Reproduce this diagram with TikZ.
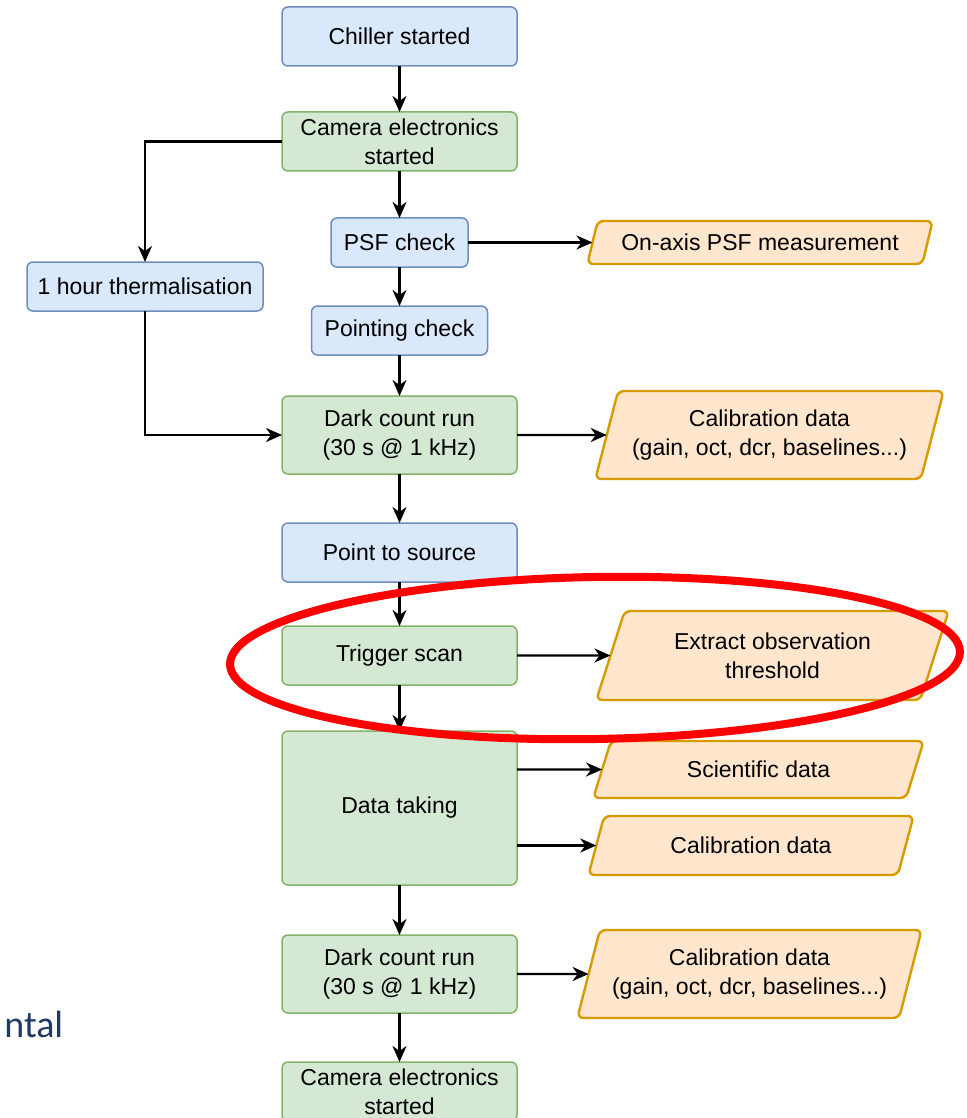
\documentclass[tikz,border=0pt]{standalone}
\usepackage{fontspec}
\setmainfont{Liberation Sans}
\newfontfamily\slidefont{Carlito}
\usepackage{xcolor}
\usepackage{tikz}
\usetikzlibrary{arrows.meta,positioning,shapes.geometric,calc}

\definecolor{bluefill}{HTML}{DAE8FC}
\definecolor{blueline}{HTML}{6C8EBF}
\definecolor{greenfill}{HTML}{D5E8D4}
\definecolor{greenline}{HTML}{82B366}
\definecolor{orangefill}{HTML}{FFE6CC}
\definecolor{orangeline}{HTML}{D79B00}
\definecolor{slideblue}{HTML}{1F3864}

\begin{document}
\begin{tikzpicture}[
        font=\fontsize{11.5}{14.5}\selectfont,
        box/.style={
            draw, rounded corners=3pt, line width=0.75pt,
            minimum width=117.5pt, minimum height=29.5pt,
            align=center, inner sep=2pt, outer sep=0pt
        },
        bluebox/.style={box, draw=blueline, fill=bluefill},
        greenbox/.style={box, draw=greenline, fill=greenfill},
        databox/.style={
            trapezium, trapezium left angle=70, trapezium right angle=110,
            trapezium stretches=true,
            draw=orangeline, fill=orangefill, line width=1.2pt,
            rounded corners=3pt, align=center, inner sep=2pt, outer sep=0pt
        },
        arrow/.style={-{Stealth[length=8pt,width=7pt,inset=2.5pt]}, line width=1.15pt},
        highlight/.style={draw=red, line width=4pt},
        node distance=23pt
    ]

    \useasboundingbox (0,0) rectangle (483pt,-559pt);

    % Main column
    \node[bluebox] (chiller) at (199.75pt,-18.25pt) {Chiller started};
    \node[greenbox, below=of chiller] (cam1) {Camera electronics\\started};
    \node[bluebox, below=23.5pt of cam1, minimum width=68.5pt, minimum height=24.5pt] (psf) {PSF check};
    \node[bluebox, below=19.5pt of psf, minimum width=88pt, minimum height=24.5pt] (pointing) {Pointing check};
    \node[greenbox, below=20.5pt of pointing, minimum height=39pt] (dark1) {Dark count run\\(30 s @ 1 kHz)};
    \node[bluebox, below=24.5pt of dark1] (point) {Point to source};
    \node[greenbox, below=22pt of point] (trigger) {Trigger scan};
    \node[greenbox, below=of trigger, minimum height=77pt] (datatake) {Data taking};
    \node[greenbox, below=25pt of datatake, minimum height=39pt] (dark2) {Dark count run\\(30 s @ 1 kHz)};
    \node[greenbox, below=24.5pt of dark2] (cam2) {Camera electronics\\started};

    % Side branch
    \node[bluebox, minimum width=118pt, minimum height=24.5pt] (therm)
        at ($(psf.south)!0.5!(pointing.north)+(-127.25pt,0)$) {1 hour thermalisation};

    % Outputs
    \node[databox, minimum width=173pt, minimum height=21.5pt] (onaxis) at ($(psf)+(180.25pt,0)$) {On-axis PSF measurement};
    \node[databox, minimum width=174.5pt, minimum height=44pt] (calib1) at ($(dark1)+(185pt,0)$) {Calibration data\\(gain, oct, dcr, baselines...)};
    \node[databox, minimum width=176.5pt, minimum height=44.5pt] (extract) at ($(trigger)+(186.5pt,0)$) {Extract observation\\threshold};
    \node[databox, minimum width=165.5pt, minimum height=28.5pt] (scidata) at ($(datatake)+(179.5pt,19.25pt)$) {Scientific data};
    \node[databox, minimum width=164pt, minimum height=29.5pt] (calib2) at ($(datatake)+(175.75pt,-18.75pt)$) {Calibration data};
    \node[databox, minimum width=172.5pt, minimum height=44pt] (calib3) at ($(dark2)+(175pt,0)$) {Calibration data\\(gain, oct, dcr, baselines...)};

    % Arrows
    \draw[arrow] (chiller) -- (cam1);
    \draw[arrow] (cam1) -- (psf);
    \draw[arrow] (cam1.west) -| (therm.north);
    \draw[arrow] (psf) -- (onaxis);
    \draw[arrow] (psf) -- (pointing);
    \draw[arrow] (pointing) -- (dark1);
    \draw[arrow] (therm.south) |- (dark1.west);
    \draw[arrow] (dark1) -- (calib1);
    \draw[arrow] (dark1) -- (point);
    \draw[arrow] (point) -- (trigger);
    \draw[arrow] (trigger) -- (extract);
    \draw[arrow] (trigger) -- (datatake);
    \draw[arrow] (datatake.east |- scidata) -- (scidata);
    \draw[arrow] (datatake.east |- calib2) -- (calib2);
    \draw[arrow] (datatake) -- (dark2);
    \draw[arrow] (dark2) -- (calib3);
    \draw[arrow] (dark2) -- (cam2);

    % Highlight
    \coordinate (ring) at ($(trigger)+(97.75pt,-1.25pt)$);
    \draw[highlight, rotate around={1:(ring)}] (ring) ellipse [x radius=182.5pt, y radius=40.5pt];

    % Slide text cut at the edge
    \node[anchor=base west, inner sep=0pt, text=slideblue,
          font=\slidefont\fontsize{19}{22}\selectfont] (cut) at (2pt,-518.5pt) {ntal};

\end{tikzpicture}
\end{document}
